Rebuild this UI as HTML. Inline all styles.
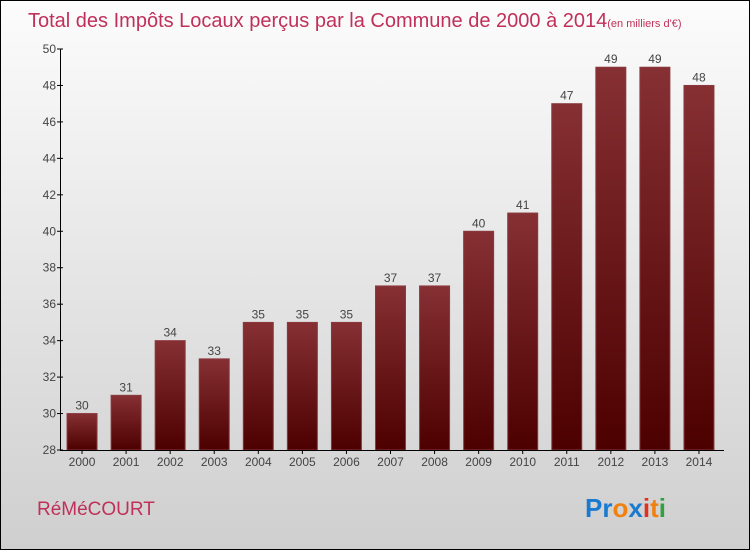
<!DOCTYPE html>
<html><head><meta charset="utf-8"><style>
body{margin:0;width:750px;height:550px;overflow:hidden;font-family:"Liberation Sans",sans-serif}
#wrap{position:absolute;left:0;top:0;width:748px;height:548px;border:1px solid #000;background:linear-gradient(#fcfcfc,#cfcfcf)}
</style></head><body>
<div id="wrap">
<svg width="748" height="548" id="svg">
<defs><linearGradient id="bg" x1="0" y1="0" x2="0" y2="1"><stop offset="0" stop-color="#863034"/><stop offset="1" stop-color="#4d0000"/></linearGradient></defs>
<text x="27" y="26" font-size="20" fill="#c0305a">Total des Impôts Locaux perçus par la Commune de 2000 à 2014<tspan font-size="11">(en milliers d'€)</tspan></text>
<text x="36" y="514" font-size="19" fill="#c0305a">RéMéCOURT</text>
<text x="584" y="516" font-size="26" font-weight="bold" fill="#1a7ad0">Pr<tspan fill="#f08010">o</tspan><tspan fill="#1a7ad0">x</tspan><tspan fill="#e03020">i</tspan><tspan fill="#f08010">t</tspan><tspan fill="#30a040">i</tspan></text>
<g id="plot"></g>
</svg></div>
<script>
const years=["2000","2001","2002","2003","2004","2005","2006","2007","2008","2009","2010","2011","2012","2013","2014"];
const values=[30,31,34,33,35,35,35,37,37,40,41,47,49,49,48];
const yTicks=[28,30,32,34,36,38,40,42,44,46,48,50];
const X0=59,X1=720,Y0=449,Y1=48,VMIN=28,VMAX=50;
const y=v=>Y0-(v-VMIN)/(VMAX-VMIN)*(Y0-Y1);
const slot=(X1-X0)/years.length;
const xc=i=>X0+slot*(i+0.5);
const g=document.getElementById('plot');const NS="http://www.w3.org/2000/svg";
function mk(t,a,txt){const e=document.createElementNS(NS,t);for(const k in a)e.setAttribute(k,a[k]);if(txt!=null)e.textContent=txt;g.appendChild(e);return e;}
values.forEach((v,i)=>{
const r=mk('rect',{x:xc(i)-15,y:y(v),width:30,height:Y0-y(v),fill:'url(#bg)',stroke:'#8a3a40','stroke-width':1});


const t=mk('text',{x:xc(i),y:y(v)-4,'text-anchor':'middle','font-size':12,fill:'#444'},v);


const l=mk('text',{x:xc(i),y:Y0+16,'text-anchor':'middle','font-size':12,fill:'#444'},years[i]);


mk('line',{x1:xc(i),x2:xc(i),y1:Y0,y2:Y0+4,stroke:'#000'});
});
yTicks.forEach(v=>{
mk('line',{x1:X0-3,x2:X0+3,y1:y(v),y2:y(v),stroke:'#000'});
const t=mk('text',{x:X0-4,y:y(v)+4,'text-anchor':'end','font-size':12,fill:'#444'},v);


});
const ya=mk('line',{x1:X0+.5,x2:X0+.5,y1:Y1,y2:Y0,stroke:'#000'});


const xa=mk('line',{x1:X0,x2:X1+3,y1:Y0+.5,y2:Y0+.5,stroke:'#000'});


</script>
</body></html>
